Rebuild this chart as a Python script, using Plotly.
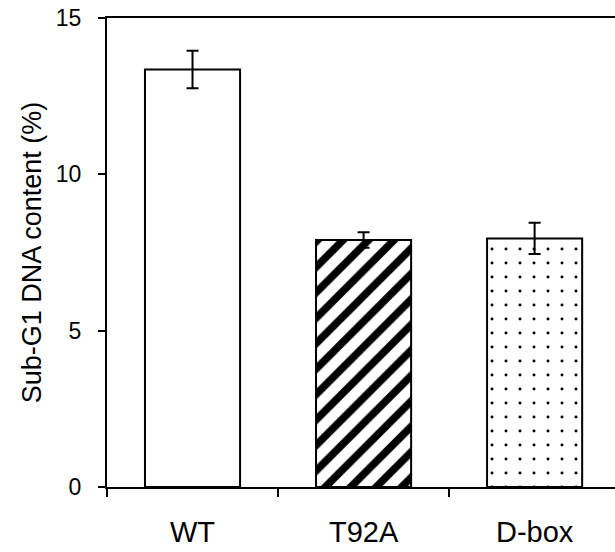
import plotly.graph_objects as go

categories = ["WT", "T92A", "D-box"]
values = [13.35, 7.9, 7.95]
errors = [0.6, 0.25, 0.5]
patterns = ["", "/", "."]
y_ticks = [0, 5, 10, 15]

fig = go.Figure()
fig.add_trace(go.Bar(
    x=categories,
    y=values,
    width=0.556,
    marker=dict(
        color="white",
        line=dict(color="black", width=2),
        pattern=dict(
            shape=patterns,
            fgcolor="black",
            bgcolor="white",
            fgopacity=1,
            size=[10, 18, 14],
            solidity=[0.3, 0.42, 0.035],
            fillmode="overlay",
        ),
    ),
    error_y=dict(type="data", array=errors, visible=True,
                 color="black", thickness=2, width=6),
    showlegend=False,
))

fig.update_layout(
    width=615, height=552,
    margin=dict(l=107, r=0, t=18, b=65),
    plot_bgcolor="white",
    paper_bgcolor="white",
    font=dict(family="Liberation Sans, Arial, sans-serif", color="black"),
    xaxis=dict(
        type="category",
        range=[-0.5, 2.47],
        automargin=False,
        showline=True, linecolor="black", linewidth=2,
        mirror=True,
        ticks="outside", ticklen=8, tickwidth=1.5, tickcolor="black",
        tickson="boundaries",
        tickfont=dict(size=29),
        ticklabelstandoff=18,
        showgrid=False, zeroline=False,
    ),
    yaxis=dict(
        range=[0, 15],
        tickvals=y_ticks,
        automargin=False,
        showline=True, linecolor="black", linewidth=2,
        ticks="outside", ticklen=7, tickwidth=1.5, tickcolor="black",
        tickfont=dict(size=23),
        ticklabelstandoff=12,
        ticklabeloverflow="allow",
        showgrid=False, zeroline=False,
        title=dict(text="Sub-G1 DNA content (%)", font=dict(size=27), standoff=6),
    ),
)

fig.write_html(
    "out.html",
    config={"displayModeBar": False},
    post_script="document.body.style.margin='0';document.body.style.overflow='hidden';",
)
